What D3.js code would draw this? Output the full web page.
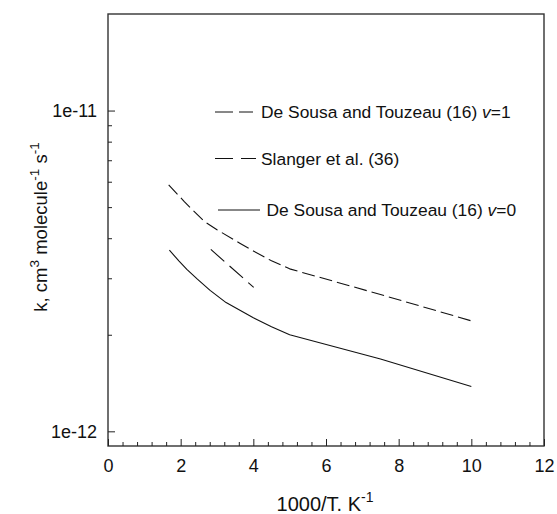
<!DOCTYPE html>
<html>
<head>
<meta charset="utf-8">
<script src="https://cdn.jsdelivr.net/npm/d3@7"></script>
<style>
  html, body { margin: 0; padding: 0; background: #fff; }
  svg { display: block; font-family: "Liberation Sans", Arial, Helvetica, sans-serif; }
</style>
</head>
<body>
<svg id="chart" width="557" height="514"></svg>
<script>
// ---- data ----
const v1X = [1.67, 2.1, 2.66, 3.0, 3.64, 4.0, 4.5, 5.0, 7.5, 10.0];
const v1K = [5.87e-12, 5.2e-12, 4.5e-12, 4.25e-12, 3.85e-12, 3.65e-12, 3.4e-12, 3.21e-12, 2.67e-12, 2.21e-12];
const slX = [2.83, 4.01];
const slK = [3.69e-12, 2.81e-12];
const v0X = [1.69, 1.95, 2.17, 2.46, 2.81, 3.25, 4.0, 4.5, 5.0, 7.5, 10.0];
const v0K = [3.67e-12, 3.4e-12, 3.2e-12, 2.98e-12, 2.75e-12, 2.52e-12, 2.26e-12, 2.12e-12, 2.0e-12, 1.68e-12, 1.38e-12];

const xMajorTicks = [0, 2, 4, 6, 8, 10, 12];
const xMinorTicks = d3.range(0, 12.01, 0.4).filter(v => Math.abs(v / 2 - Math.round(v / 2)) > 1e-6);
const yMajorTicks = [1e-12, 1e-11];
const yMajorLabels = ["1e-12", "1e-11"];
const yMinorTicks = [2e-12, 3e-12, 4e-12, 5e-12, 6e-12, 7e-12, 8e-12, 9e-12];

const legendLabels = [
  {pre: "De Sousa and Touzeau (16) ", it: "v", post: "=1"},
  {pre: "Slanger et al. (36)", it: "", post: ""},
  {pre: "De Sousa and Touzeau (16) ", it: "v", post: "=0"}
];

// ---- layout ----
const pL = 108, pR = 544, pT = 14, pB = 446;
const svg = d3.select("#chart");

const x = d3.scaleLinear().domain([0, 12]).range([pL, pR]);
const y = d3.scaleLog().domain([0.9e-12, 2e-11]).range([pB, pT]);

// frame
svg.append("rect")
  .attr("x", pL).attr("y", pT)
  .attr("width", pR - pL).attr("height", pB - pT)
  .attr("fill", "none").attr("stroke", "#333").attr("stroke-width", 1.4);

// x axis (ticks inward)
const gxMaj = svg.append("g").attr("transform", `translate(0,${pB})`)
  .call(d3.axisBottom(x).tickValues(xMajorTicks).tickSizeInner(-7).tickSizeOuter(0).tickPadding(13)
    .tickFormat(d3.format("d")));
const gxMin = svg.append("g").attr("transform", `translate(0,${pB})`)
  .call(d3.axisBottom(x).tickValues(xMinorTicks).tickSizeInner(-4).tickSizeOuter(0).tickFormat(""));

// y axis (ticks inward)
const gyMaj = svg.append("g").attr("transform", `translate(${pL},0)`)
  .call(d3.axisLeft(y).tickValues(yMajorTicks).tickSizeInner(-7).tickSizeOuter(0).tickPadding(11)
    .tickFormat((d, i) => yMajorLabels[i]));
const gyMin = svg.append("g").attr("transform", `translate(${pL},0)`)
  .call(d3.axisLeft(y).tickValues(yMinorTicks).tickSizeInner(-4).tickSizeOuter(0).tickFormat(""));

[gxMaj, gxMin, gyMaj, gyMin].forEach(g => {
  g.select(".domain").remove();
  g.selectAll("line").attr("stroke", "#222");
  g.selectAll("text").attr("fill", "#111").style("font-size", "18px")
    .style("font-family", "'Liberation Sans', Arial, sans-serif");
});

// lines
const lineGen = d3.line().x(d => x(d[0])).y(d => y(d[1])).curve(d3.curveLinear);
const series = [
  {xs: v1X, ks: v1K, dash: "13,5"},
  {xs: slX, ks: slK, dash: "18,7"},
  {xs: v0X, ks: v0K, dash: null}
];
series.forEach(s => {
  const pts = s.xs.map((v, i) => [v, s.ks[i]]);
  svg.append("path").datum(pts)
    .attr("d", lineGen)
    .attr("fill", "none").attr("stroke", "#111").attr("stroke-width", 1.1)
    .attr("stroke-linejoin", "round")
    .attr("stroke-dasharray", s.dash);
});

// legend
const legY = [112, 158.5, 210];
const legLineX = [[215, 258], [215, 256], [218, 260]];
const legTextX = [261, 261, 266.5];
const legDash = ["18,6,14,6,3", "18,8", null];
legendLabels.forEach((lab, i) => {
  svg.append("line")
    .attr("x1", legLineX[i][0]).attr("x2", legLineX[i][1])
    .attr("y1", legY[i]).attr("y2", legY[i])
    .attr("stroke", "#111").attr("stroke-width", 1)
    .attr("stroke-dasharray", legDash[i]);
  const t = svg.append("text")
    .attr("x", legTextX[i]).attr("y", legY[i] + 6)
    .attr("fill", "#111").style("font-size", "17.4px");
  t.append("tspan").text(lab.pre);
  if (lab.it) t.append("tspan").style("font-style", "italic").text(lab.it);
  if (lab.post) t.append("tspan").text(lab.post);
});

// x axis title
const xt = svg.append("text")
  .attr("x", 325).attr("y", 511)
  .attr("text-anchor", "middle").attr("fill", "#111").style("font-size", "20px");
xt.append("tspan").text("1000/T. K");
xt.append("tspan").attr("dy", -9).style("font-size", "14px").text("-1");

// y axis title
const yt = svg.append("text")
  .attr("transform", `translate(47,227) rotate(-90)`)
  .attr("text-anchor", "middle").attr("fill", "#111").style("font-size", "18.5px");
yt.append("tspan").text("k, cm");
yt.append("tspan").attr("dy", -8).style("font-size", "13.5px").text("3");
yt.append("tspan").attr("dy", 8).text(" molecule");
yt.append("tspan").attr("dy", -8).style("font-size", "13.5px").text("-1");
yt.append("tspan").attr("dy", 8).text(" s");
yt.append("tspan").attr("dy", -8).style("font-size", "13.5px").text("-1");
</script>
</body>
</html>
